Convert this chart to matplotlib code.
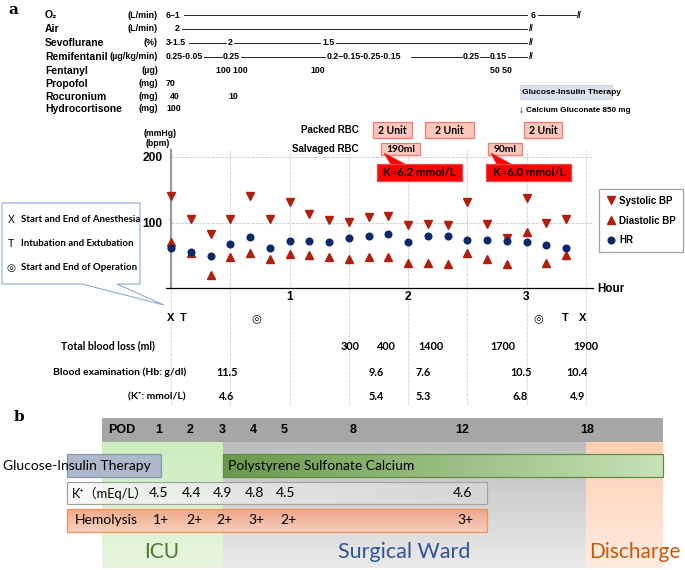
import matplotlib.pyplot as plt
import matplotlib.transforms as mtransforms
from matplotlib.patches import Rectangle, Polygon
from matplotlib.colors import to_rgb
import numpy as np

# ---------------- panel a data ----------------
minutes = [0, 10, 20, 30, 40, 50, 60, 70, 80, 90, 100,
           110, 120, 130, 140, 150, 160, 170, 180, 190, 200]
systolic = [140, 106, 82, 106, 140, 106, 131, 113, 104, 101, 109,
            110, 96, 98, 96, 131, 98, 77, 137, 100, 106]
diastolic = [70, 53, 20, 47, 53, 45, 52, 50, 48, 44, 48,
             48, 38, 38, 37, 53, 44, 37, 85, 39, 50]
heart_rate = [62, 55, 49, 67, 78, 62, 72, 72, 71, 76, 79,
              83, 71, 79, 79, 73, 73, 72, 70, 66, 61]

events = ["X", "T", "◎", "◎", "T", "X"]
event_hours = [0.0, 0.1, 0.72, 3.1, 3.33, 3.47]

blood_loss = ["300", "400", "1400", "1700", "1900"]
blood_loss_hours = [1.51, 1.82, 2.19, 2.80, 3.50]
hb_values = ["11.5", "9.6", "7.6", "10.5", "10.4"]
k_values = ["4.6", "5.4", "5.3", "6.8", "4.9"]
lab_hours = [0.47, 1.73, 2.13, 2.95, 3.43]

packed_rbc = ["2 Unit", "2 Unit", "2 Unit"]
packed_hours = [1.87, 2.35, 3.14]
salvaged_rbc = ["190ml", "90ml"]
salvaged_hours = [1.94, 2.82]
k_alerts = ["K=6.2 mmol/L", "K=6.0 mmol/L"]
k_alert_hours = [2.1, 3.02]

drugs = ["O₂", "Air", "Sevoflurane", "Remifentanil", "Fentanyl",
         "Propofol", "Rocuronium", "Hydrocortisone"]
drug_units = ["(L/min)", "(L/min)", "(%)", "(µg/kg/min)", "(µg)",
              "(mg)", "(mg)", "(mg)"]
dose_text = [
    [("6–1", 166), ("6", 531), ("//", 577)],
    [("2", 175), ("//", 529)],
    [("3-1.5", 166), ("2", 228), ("1.5", 322), ("//", 529)],
    [("0.25-0.05", 166), ("0.25", 223), ("0.2–0.15-0.25-0.15", 327),
     ("0.25", 463), ("0.15", 490), ("//", 529)],
    [("100 100", 216), ("100", 310), ("50 50", 490)],
    [("70", 166)],
    [("40", 170), ("10", 228)],
    [("100", 166)],
]
dose_lines = [
    [(184, 527), (538, 576)],
    [(182, 527)],
    [(189, 226), (234, 320), (336, 527)],
    [(204, 222), (241, 325), (411, 462), (480, 489), (508, 527)],
    [], [], [], [],
]
row_y = [15, 28.5, 42.5, 56.5, 70.5, 84, 96.5, 108.5]

# ---------------- panel b data ----------------
pod_labels = ["1", "2", "3", "4", "5", "8", "12", "18"]
pod_x = [159, 190, 222, 253, 284, 353, 462, 587]
pod_k = ["4.5", "4.4", "4.9", "4.8", "4.5", "4.6"]
pod_hemolysis = ["1+", "2+", "2+", "3+", "2+", "3+"]
pod_lab_x = [159, 192, 222, 254, 286, 463]

ARIAL = ["Liberation Sans", "DejaVu Sans"]
CALIBRI = ["Lato", "Noto Sans CJK JP", "DejaVu Sans"]
RED = "#B0200F"
NAVY = "#0C2A6B"
PX_PER_HOUR = 118.5

fig = plt.figure(figsize=(6.85, 5.70), dpi=100)
bg = fig.add_axes([0, 0, 1, 1])
bg.axis("off")
bg.set_zorder(2)


def grad_rect(x0, x1, y0, y1, c0, c1, vertical=True, alpha=1.0, ec=None, z=1):
    a, b = np.array(to_rgb(c0)), np.array(to_rgb(c1))
    t = np.linspace(0, 1, 64)
    cols = a[None, :] * (1 - t[:, None]) + b[None, :] * t[:, None]
    img = cols[:, None, :] if vertical else cols[None, :, :]
    bg.imshow(img, extent=[x0, x1, y1, y0], origin="upper", aspect="auto",
              interpolation="bilinear", alpha=alpha, zorder=z)
    if ec:
        bg.add_patch(Rectangle((x0, y0), x1 - x0, y1 - y0, fill=False, ec=ec, lw=0.9, zorder=z + 0.1))


# ---------- top drug table ----------
bg.text(8, 10, "a", fontsize=11, fontweight="bold", family="DejaVu Serif", va="center")
for i, name in enumerate(drugs):
    y = row_y[i]
    bg.text(45, y, name, fontsize=7.5, fontweight="bold", family=ARIAL, va="center")
    bg.text(158, y, drug_units[i], fontsize=6.4, fontweight="bold", family=ARIAL, va="center", ha="right")
    for txt, x in dose_text[i]:
        bg.text(x, y, txt, fontsize=6.3, fontweight="bold", family=ARIAL, va="center")
    for x0, x1 in dose_lines[i]:
        bg.plot([x0, x1], [y, y], color="black", lw=0.6)

bg.add_patch(Rectangle((520, 85), 92, 14, fc="#DDE3EC", ec="#C9D3E2", lw=0.6))
bg.text(522, 92, "Glucose-Insulin Therapy", fontsize=6.0, fontweight="bold", family=ARIAL, va="center")
bg.text(519, 110, "↓", fontsize=7, family=ARIAL, va="center")
bg.text(526, 110, "Calcium Gluconate 850 mg", fontsize=5.9, fontweight="bold", family=ARIAL, va="center")

# ---------- vital signs chart ----------
ax = fig.add_axes([171 / 685, 1 - 288.3 / 570, 422 / 685, 138.3 / 570])
ax.set_zorder(1)
ax.set_facecolor("none")
for s in ax.spines.values():
    s.set_visible(False)
hours = np.array(minutes) / 60.0
ax.set_xlim(0, 3.561)
ax.set_ylim(0, 210.2)

for h in [0.5, 1.0, 1.5, 2.0, 2.5, 3.0, 3.5]:
    ax.plot([h, h], [-177, 210], color="#DCDCDC", lw=0.8, ls=(0, (3, 1)), clip_on=False, zorder=0)
ax.plot([0, 0], [-177, 0], color="#DCDCDC", lw=0.8, ls=(0, (3, 1)), clip_on=False, zorder=0)
for v in [100, 200]:
    ax.plot([0, 3.561], [v, v], color="#D5D5D5", lw=0.8, ls=(0, (3, 1)), zorder=0)
ax.plot([0, 0], [0, 210], color="#9A9A9A", lw=1.6, clip_on=False, zorder=1)
ax.plot([-0.04, 3.561], [0, 0], color="black", lw=0.9, clip_on=False, zorder=1)

ax.plot(hours, systolic, "v", color=RED, ms=5.4, ls="none", label="Systolic BP", clip_on=False, zorder=3)
ax.plot(hours, diastolic, "^", color=RED, ms=5.4, ls="none", label="Diastolic BP", clip_on=False, zorder=3)
ax.plot(hours, heart_rate, "o", color=NAVY, ms=4.8, ls="none", label="HR", clip_on=False, zorder=3)

ax.set_yticks([100, 200])
ax.set_yticklabels(["100", "200"], fontsize=8.6, fontweight="bold", family=ARIAL)
ax.set_xticks([1, 2, 3])
ax.set_xticklabels(["1", "2", "3"], fontsize=8.6, fontweight="bold", family=ARIAL)
ax.tick_params(length=0, pad=2)
ax.tick_params(axis="y", pad=6)

leg = ax.legend(loc="upper left", bbox_to_anchor=(599 / 685, 1 - 189 / 570),
                bbox_transform=fig.transFigure, frameon=True, fancybox=False,
                prop=dict(family=ARIAL, weight="bold", size=7), handletextpad=0.3,
                labelspacing=1.0, borderpad=0.7, handlelength=1.1, borderaxespad=0)
leg.get_frame().set_edgecolor("#8C8C8C")
leg.get_frame().set_linewidth(0.9)

bg.text(597, 289, "Hour", fontsize=8.4, fontweight="bold", family=ARIAL, va="center")
bg.text(160, 134, "(mmHg)", fontsize=6.3, fontweight="bold", family=ARIAL, va="center", ha="center")
bg.text(158, 144, "(bpm)", fontsize=6.3, fontweight="bold", family=ARIAL, va="center", ha="center")

tr = mtransforms.blended_transform_factory(ax.transData, bg.transData)
for ev, h in zip(events, event_hours):
    bg.text(h, 318, ev, transform=tr, fontsize=8, fontweight="bold", family=ARIAL, ha="center", va="center")

bg.text(108, 346, "Total blood loss (ml)", fontsize=7.6, fontweight="bold", family=CALIBRI, ha="center", va="center")
bg.text(186, 372, "Blood examination (Hb: g/dl)", fontsize=7.5, fontweight="bold", family=CALIBRI, ha="right", va="center")
bg.text(186, 397, "(K⁺: mmol/L)", fontsize=7.5, fontweight="bold", family=CALIBRI, ha="right", va="center")
for v, h in zip(blood_loss, blood_loss_hours):
    bg.text(h, 346, v, transform=tr, fontsize=7.8, fontweight="bold", family=CALIBRI, ha="center", va="center")
for hb, kv, h in zip(hb_values, k_values, lab_hours):
    bg.text(h, 372, hb, transform=tr, fontsize=7.8, fontweight="bold", family=CALIBRI, ha="center", va="center")
    bg.text(h, 397, kv, transform=tr, fontsize=7.8, fontweight="bold", family=CALIBRI, ha="center", va="center")


def label_box(h, y, w_px, h_px, txt, fc, ec, size, z=3):
    w = w_px / PX_PER_HOUR
    bg.add_patch(Rectangle((h - w / 2, y - h_px / 2), w, h_px, transform=tr,
                           fc=fc, ec=ec, lw=0.9, zorder=z))
    bg.text(h, y, txt, transform=tr, fontsize=size, fontweight="bold", family=CALIBRI,
            ha="center", va="center", zorder=z + 0.1)


# transfusion boxes
bg.text(359, 130, "Packed RBC", fontsize=7, fontweight="bold", family=ARIAL, ha="right", va="center")
bg.text(359, 149, "Salvaged RBC", fontsize=7, fontweight="bold", family=ARIAL, ha="right", va="center")
for txt, h, w in zip(packed_rbc, packed_hours, [39, 49, 38]):
    label_box(h, 130, w, 16, txt, "#FFC6BC", "#F07A72", 7.6)
for txt, h, w in zip(salvaged_rbc, salvaged_hours, [39, 34]):
    label_box(h, 149, w, 12, txt, "#FFC6BC", "#F07A72", 7.4)
bg.add_patch(Polygon([(384, 153), (391, 165), (407, 165)], closed=True, fc="#FF0000", ec="#E84040", lw=0.6, zorder=3))
bg.add_patch(Polygon([(491, 153), (497, 165), (513, 165)], closed=True, fc="#FF0000", ec="#E84040", lw=0.6, zorder=3))
for txt, h in zip(k_alerts, k_alert_hours):
    label_box(h, 172, 85, 17, txt, "#FF0000", "#E84848", 8.2, z=4)

# legend callout for event marks
bg.add_patch(Polygon([(2, 203), (140, 203), (140, 284), (117, 284), (164, 305), (82, 284), (2, 284)],
                     closed=True, fc="white", ec="#8FAADC", lw=0.8, zorder=2))
marks = ["X", "T", "◎"]
mark_text = ["Start and End of Anesthesia", "Intubation and Extubation", "Start and End of Operation"]
for i, (m, t) in enumerate(zip(marks, mark_text)):
    y = 220 + 24 * i
    bg.text(11, y, m, fontsize=7.5, family=ARIAL, ha="center", va="center", zorder=3)
    bg.text(21, y, t, fontsize=6.9, fontweight="bold", family=CALIBRI, va="center", zorder=3)

# ---------------- panel b ----------------
bg.text(14, 417, "b", fontsize=11, fontweight="bold", family="DejaVu Serif", va="center")
bg.add_patch(Rectangle((102, 418), 561, 24, fc="#A6A6A6", ec="none", zorder=1))
grad_rect(102, 223, 442, 568, "#CDEDBF", "#E8F6DF")
grad_rect(223, 586, 442, 568, "#BDBDBD", "#EAEAEA")
grad_rect(586, 663, 442, 568, "#FFCFB3", "#FFEBE0")
bg.text(108, 430, "POD", fontsize=9, fontweight="bold", family=ARIAL, va="center", zorder=3)
for lab, x in zip(pod_labels, pod_x):
    bg.text(x, 430, lab, fontsize=9, fontweight="bold", family=ARIAL, ha="center", va="center", zorder=3)

bg.add_patch(Rectangle((67, 454), 94, 23, fc="#ADB9CA", ec="#8497B0", lw=0.9, zorder=2))
grad_rect(223, 663, 454, 477, "#6A994C", "#C6E1B6", vertical=False, ec="#5F8E42", z=2)
grad_rect(67, 487, 482, 504, "#F8F8F8", "#D9D9D9", vertical=False, alpha=0.75, ec="#A3A3A3", z=2)
grad_rect(67, 487, 509, 532, "#F2A183", "#F9CDB9", vertical=True, alpha=0.92, ec="#EE9258", z=2)

bg.text(3, 466, "Glucose-Insulin Therapy", fontsize=10, family=CALIBRI, va="center", zorder=4)
bg.text(228, 466, "Polystyrene Sulfonate Calcium", fontsize=10, family=CALIBRI, va="center", zorder=4)
bg.text(72, 493, "K⁺（mEq/L）", fontsize=9.3, family=CALIBRI, va="center", zorder=4)
bg.text(75, 520, "Hemolysis", fontsize=10, family=CALIBRI, va="center", zorder=4)
for kv, hm, x in zip(pod_k, pod_hemolysis, pod_lab_x):
    bg.text(x, 493, kv, fontsize=10, family=CALIBRI, ha="center", va="center", zorder=4)
    bg.text(x + 2, 520, hm, fontsize=10, family=CALIBRI, ha="center", va="center", zorder=4)

bg.text(162, 552, "ICU", fontsize=15, color="#4E7A29", family=CALIBRI, ha="center", va="center", zorder=4)
bg.text(404, 552, "Surgical Ward", fontsize=15.5, color="#2F5597", family=CALIBRI, ha="center", va="center", zorder=4)
bg.text(635, 552, "Discharge", fontsize=15, color="#C55A11", family=CALIBRI, ha="center", va="center", zorder=4)

bg.set_xlim(0, 685)
bg.set_ylim(570, 0)
fig.savefig("out.png", dpi=100)
